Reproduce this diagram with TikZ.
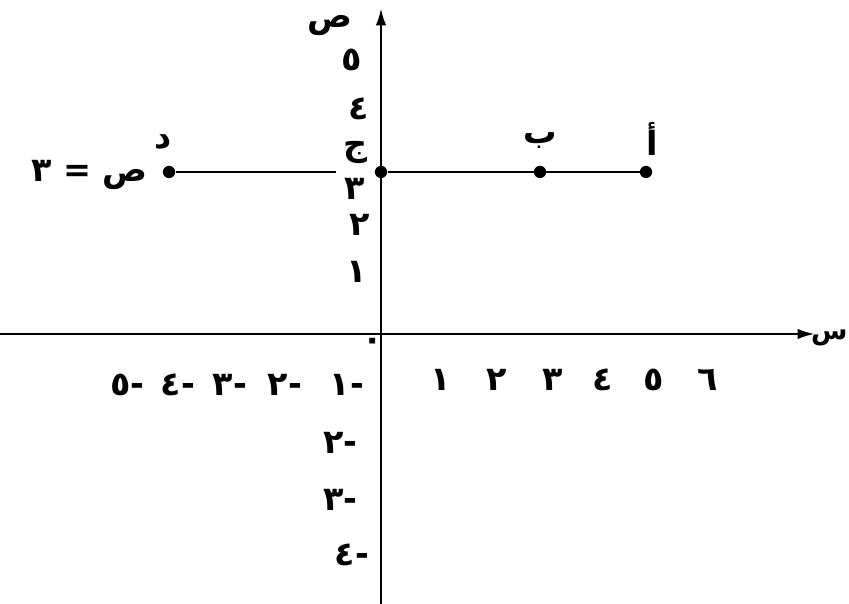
\documentclass[tikz,border=0pt]{standalone}
\usepackage{fontspec}
\usetikzlibrary{arrows.meta}
\newfontfamily\arabicfont[Script=Arabic]{DejaVu Sans}
\TeXXeTstate=1

\tikzset{
  axis/.style={line width=1.6pt, arrows={-Latex[length=10pt,width=6pt]}},
  lbl/.style={font=\arabicfont\bfseries\fontsize{19}{21}\selectfont, inner sep=0pt},
  pt/.style={circle, fill=black, inner sep=0pt, minimum size=7pt},
}

\begin{document}
\begin{tikzpicture}[x=1.06cm,y=1.08cm]
			\useasboundingbox (-7.189,-5.0) rectangle (8.830,6.185);
			
			% axes
			\coordinate (xl) at (-7.3,0);
			\coordinate (xr) at (8.19,0);
			\coordinate (yb) at (0,-5.1);
			\coordinate (yt) at (0,6.04);
			\draw[axis] (xl) -- (xr);
			\draw[axis] (yb) -- (yt);
			\node[lbl,anchor=east,font=\arabicfont\bfseries\fontsize{15}{18}\selectfont] (sx) at (8.81,-0.08) {س};
			\node[lbl] (sy) at (-0.96,5.72) {ص};
			\node[lbl] (o) at (-0.15,-0.2) {٠};
			
			% y = 3
			\node[pt] (d) at (-4,3) {};
			\node[pt] (c) at (0,3) {};
			\node[pt] (b) at (3,3) {};
			\node[pt] (a) at (5,3) {};
			\coordinate (gap) at (-0.85,3);
			\draw[line width=1pt] (d) -- (gap);
			\draw[line width=1pt] (c) -- (a);
			
			\node[lbl] (ld) at (-4.11,3.56) {د};
			\node[lbl] (lc) at (-0.49,3.36) {ج};
			\node[lbl] (lb) at (3.0,3.59) {ب};
			\node[lbl] (la) at (5.11,3.62) {أ};
			\node[lbl] (eq) at (-5.5,2.95) {\beginR ص = ٣\endR};
			
			% x labels
			\node[lbl] (x1) at (1.13,-0.85) {١};
			\node[lbl] (x2) at (2.19,-0.85) {٢};
			\node[lbl] (x3) at (3.23,-0.85) {٣};
			\node[lbl] (x4) at (4.19,-0.85) {٤};
			\node[lbl] (x5) at (5.15,-0.85) {٥};
			\node[lbl] (x6) at (6.17,-0.85) {٦};
			\node[lbl] (xm1) at (-0.64,-0.94) {-١};
			\node[lbl] (xm2) at (-1.81,-0.94) {-٢};
			\node[lbl] (xm3) at (-2.85,-0.94) {-٣};
			\node[lbl] (xm4) at (-3.83,-0.94) {-٤};
			\node[lbl] (xm5) at (-4.79,-0.94) {-٥};
			
			% y labels
			\node[lbl] (y1) at (-0.45,1.15) {١};
			\node[lbl] (y2) at (-0.40,2.02) {٢};
			\node[lbl] (y3) at (-0.49,2.68) {٣};
			\node[lbl] (y4) at (-0.43,4.16) {٤};
			\node[lbl] (y5) at (-0.55,5.07) {٥};
			\node[lbl] (ym2) at (-0.77,-2.02) {-٢};
			\node[lbl] (ym3) at (-0.77,-3.07) {-٣};
			\node[lbl] (ym4) at (-0.55,-4.09) {-٤};
			
		\end{tikzpicture}
\end{document}
